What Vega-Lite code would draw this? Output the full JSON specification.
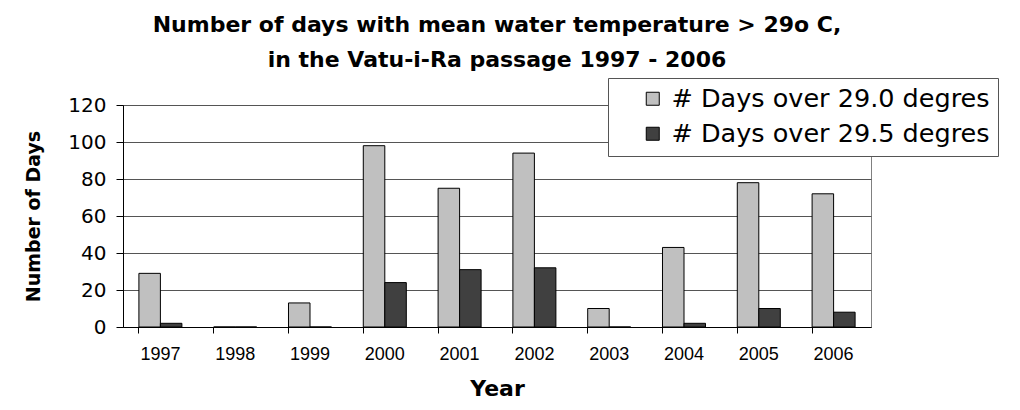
{
  "$schema": "https://vega.github.io/schema/vega-lite/v6.json",
  "width": 748,
  "height": 222,
  "autosize": {"type": "none"},
  "padding": {"left": 123, "top": 105, "right": 149, "bottom": 83},
  "background": "white",
  "config": {
    "font": "Liberation Sans",
    "view": {"stroke": "#808080", "strokeWidth": 1}
  },
  "title": {
    "text": ["Number of days with mean water temperature > 29o C,", "in the Vatu-i-Ra passage 1997 - 2006"],
    "font": "DejaVu Sans",
    "fontSize": 22,
    "fontWeight": "bold",
    "color": "black",
    "anchor": "middle",
    "frame": "group",
    "offset": 6,
    "lineHeight": 35
  },
  "data": {
    "values": [
      {"year": "1997", "series": "# Days over 29.0 degres", "days": 29},
      {"year": "1997", "series": "# Days over 29.5 degres", "days": 2},
      {"year": "1998", "series": "# Days over 29.0 degres", "days": 0},
      {"year": "1998", "series": "# Days over 29.5 degres", "days": 0},
      {"year": "1999", "series": "# Days over 29.0 degres", "days": 13},
      {"year": "1999", "series": "# Days over 29.5 degres", "days": 0},
      {"year": "2000", "series": "# Days over 29.0 degres", "days": 98},
      {"year": "2000", "series": "# Days over 29.5 degres", "days": 24},
      {"year": "2001", "series": "# Days over 29.0 degres", "days": 75},
      {"year": "2001", "series": "# Days over 29.5 degres", "days": 31},
      {"year": "2002", "series": "# Days over 29.0 degres", "days": 94},
      {"year": "2002", "series": "# Days over 29.5 degres", "days": 32},
      {"year": "2003", "series": "# Days over 29.0 degres", "days": 10},
      {"year": "2003", "series": "# Days over 29.5 degres", "days": 0},
      {"year": "2004", "series": "# Days over 29.0 degres", "days": 43},
      {"year": "2004", "series": "# Days over 29.5 degres", "days": 2},
      {"year": "2005", "series": "# Days over 29.0 degres", "days": 78},
      {"year": "2005", "series": "# Days over 29.5 degres", "days": 10},
      {"year": "2006", "series": "# Days over 29.0 degres", "days": 72},
      {"year": "2006", "series": "# Days over 29.5 degres", "days": 8}
    ]
  },
  "mark": {"type": "bar", "stroke": "black", "strokeWidth": 1},
  "encoding": {
    "x": {
      "field": "year",
      "type": "nominal",
      "scale": {"paddingInner": 0.425, "paddingOuter": 0.2125},
      "axis": {
        "title": "Year",
        "titleFont": "DejaVu Sans",
        "titleFontSize": 22,
        "titleFontWeight": "bold",
        "titleColor": "black",
        "titlePadding": 15,
        "labelAngle": 0,
        "labelFontSize": 18,
        "labelColor": "black",
        "labelPadding": 12,
        "bandPosition": 0,
        "tickSize": 6,
        "tickColor": "black",
        "domainColor": "black"
      }
    },
    "xOffset": {"field": "series", "type": "nominal", "sort": ["# Days over 29.0 degres", "# Days over 29.5 degres"], "scale": {"paddingInner": 0, "paddingOuter": 0}},
    "y": {
      "field": "days",
      "type": "quantitative",
      "scale": {"domain": [0, 120], "nice": false},
      "axis": {
        "title": "Number of Days",
        "titleFont": "DejaVu Sans",
        "titleFontSize": 19,
        "titleFontWeight": "bold",
        "titleColor": "black",
        "titlePadding": 24,
        "values": [0, 20, 40, 60, 80, 100, 120],
        "labelFont": "DejaVu Sans",
        "labelFontSize": 20,
        "labelColor": "black",
        "labelPadding": 10,
        "tickSize": 7,
        "tickColor": "black",
        "domainColor": "black",
        "gridColor": "#555555",
        "gridWidth": 1
      }
    },
    "color": {
      "field": "series",
      "type": "nominal",
      "scale": {"domain": ["# Days over 29.0 degres", "# Days over 29.5 degres"], "range": ["#C0C0C0", "#404040"]},
      "legend": {
        "title": " ",
        "titleOrient": "left",
        "titlePadding": 24,
        "orient": "none",
        "legendX": 485,
        "legendY": -27,
        "fillColor": "white",
        "strokeColor": "#555555",
        "padding": 8,
        "labelFont": "DejaVu Sans",
        "labelFontSize": 25.5,
        "labelOffset": 6,
        "labelColor": "black",
        "labelLimit": 400,
        "symbolType": "square",
        "symbolSize": 169,
        "symbolStrokeColor": "black",
        "symbolStrokeWidth": 1,
        "symbolOpacity": 1,
        "rowPadding": 8
      }
    }
  }
}
